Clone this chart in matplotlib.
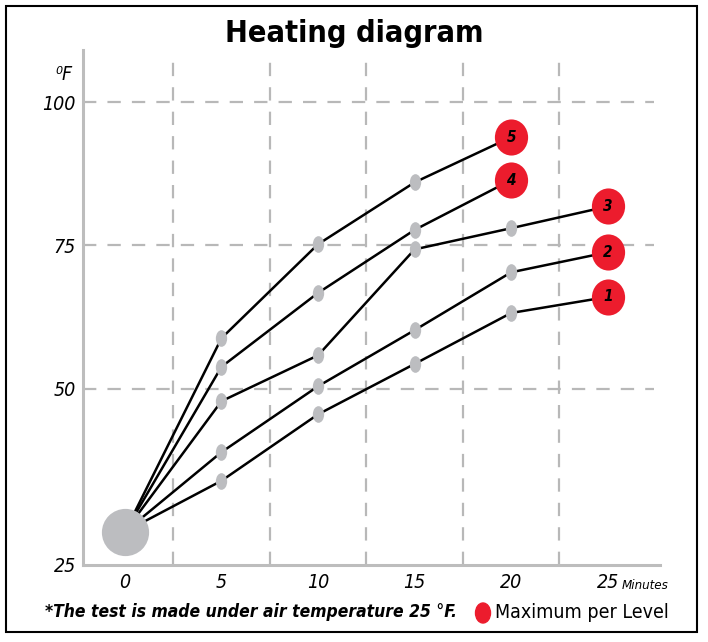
import matplotlib
matplotlib.use("Agg")
import matplotlib.pyplot as plt
from matplotlib.path import Path
from matplotlib.transforms import Affine2D
from matplotlib.patches import Rectangle, Ellipse

plt.rcParams['font.family'] = ['DejaVu Sans']
plt.rcParams['font.stretch'] = 'condensed'

# ---- data ----
minutes = [0, 5, 10, 15, 20, 25]
level1 = [25, 33.9, 45.5, 54.3, 63.2, 66.0]
level2 = [25, 38.9, 50.4, 60.2, 70.3, 73.8]
level3 = [25, 47.8, 55.8, 74.3, 78.0, 81.8]
level4 = [25, 53.8, 66.7, 77.7, 86.4]
level5 = [25, 58.8, 75.2, 86.0, 93.9]
levels = [level1, level2, level3, level4, level5]
level_names = ['1', '2', '3', '4', '5']
x_ticks = [0, 5, 10, 15, 20, 25]
y_tick_labels = ['25', '50', '75', '100']

RED = '#ec1c2d'
GREY = '#bcbdc0'
GRID = '#b8b8b8'

fig = plt.figure(figsize=(7.08, 6.42), dpi=100)
ax = fig.add_axes([0.117, 0.120, 0.815, 0.802])

xmin, xmax = -2.18, 27.7
ymin, ymax = 19.2, 109.1
ax.set_xlim(xmin, xmax)
ax.set_ylim(ymin, ymax)

ell = Path.unit_circle().transformed(Affine2D().scale(0.68, 1.0))
ell_big = Path.unit_circle().transformed(Affine2D().scale(0.92, 1.0))

for v in [50, 75, 100]:
    ax.plot([xmin, 27.4], [v, v], color=GRID, lw=1.6, dashes=(6, 5), zorder=1)
for xv in [2.5, 7.5, 12.5, 17.5, 22.5]:
    ax.plot([xv, xv], [ymin, 108.0], color=GRID, lw=1.6, dashes=(6, 5), zorder=1)

for vals, name in zip(levels, level_names):
    xs = minutes[:len(vals)]
    ax.plot(xs, vals, color='black', lw=1.8, zorder=3, solid_capstyle='butt')
    ax.plot(xs[1:-1], vals[1:-1], linestyle='none', marker=ell, markersize=12,
            color=GREY, markeredgewidth=0, zorder=4)
    ax.plot([xs[-1]], [vals[-1]], linestyle='none', marker=ell_big, markersize=26,
            color=RED, markeredgewidth=0, zorder=5)
    ax.text(xs[-1], vals[-1], name, ha='center', va='center', fontsize=11,
            fontweight='bold', fontstyle='italic', zorder=6)

ax.plot([minutes[0]], [level1[0]], marker='o', markersize=34, color=GREY,
        markeredgewidth=0, linestyle='none', zorder=7)

for s in ['top', 'right']:
    ax.spines[s].set_visible(False)
for s in ['left', 'bottom']:
    ax.spines[s].set_color('#bdbdbd')
    ax.spines[s].set_linewidth(2.2)

ax.set_xticks(x_ticks)
ax.set_xticklabels([str(t) for t in x_ticks])
ax.set_yticks([ymin, 50, 75, 100])
ax.set_yticklabels(y_tick_labels)
ax.tick_params(length=0, labelsize=14, pad=5)
ax.tick_params(axis='x', pad=6)
for lab in ax.get_xticklabels() + ax.get_yticklabels():
    lab.set_fontstyle('italic')

ax.text(0.934, -0.027, 'Minutes', transform=ax.transAxes, fontsize=9.5,
        fontstyle='italic', ha='left', va='top')

fig.text(56 / 708, 1 - 75 / 642, '⁰F', fontsize=14, fontstyle='italic',
         ha='left', va='center')

fig.text(0.5, 1 - 33 / 642, 'Heating diagram', fontsize=22, fontweight='bold',
         ha='center', va='center')

fig.text(45 / 708, 1 - 612 / 642, '*The test is made under air temperature 25 °F.',
         fontsize=12.5, fontstyle='italic', fontweight='bold', ha='left', va='center')
fig.patches.append(Ellipse((483 / 708, 1 - 613 / 642), 15 / 708, 20 / 642,
                           transform=fig.transFigure, color=RED))
fig.text(495 / 708, 1 - 613 / 642, 'Maximum per Level', fontsize=14,
         ha='left', va='center')

fig.patches.append(Rectangle((6 / 708, 1 - 632 / 642), 691 / 708, 626 / 642,
                             transform=fig.transFigure, fill=False,
                             edgecolor='black', lw=1.5))

fig.savefig('out.png', dpi=100)
